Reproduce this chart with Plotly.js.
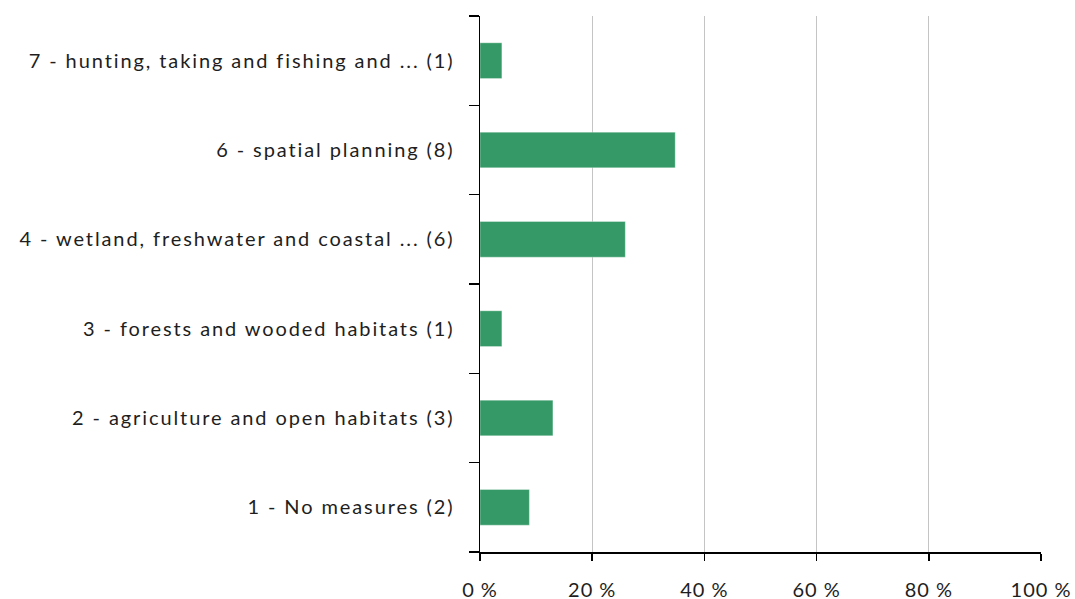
<!DOCTYPE html>
<html>
<head>
<meta charset="utf-8">
<script src="https://cdn.plot.ly/plotly-3.0.1.min.js"></script>
<style>
html,body{margin:0;padding:0;background:#fff;}
#chart{width:1075px;height:599px;}
#chart .ytick text{letter-spacing:1.9px;}
#chart .xtick text{letter-spacing:1px;}
</style>
</head>
<body>
<div id="chart"></div>
<script>
const categories = [
  "1 - No measures (2)",
  "2 - agriculture and open habitats (3)",
  "3 - forests and wooded habitats (1)",
  "4 - wetland, freshwater and coastal ... (6)",
  "6 - spatial planning (8)",
  "7 - hunting, taking and fishing and ... (1)"
];
const percentValues = [8.8, 13.0, 3.9, 25.9, 34.8, 3.9];
const xTickValues = [0, 20, 40, 60, 80, 100];
const xTickLabels = ["0 %", "20 %", "40 %", "60 %", "80 %", "100 %"];

const fontFamily = "Lato, 'Open Sans', sans-serif";

Plotly.newPlot("chart", [{
  type: "bar",
  orientation: "h",
  y: categories,
  x: percentValues,
  marker: {color: "#349966", line: {color: "rgba(255,255,255,0.35)", width: 1}},
  hoverinfo: "x+y"
}], {
  width: 1075, height: 599,
  margin: {l: 480, r: 34, t: 16, b: 47, pad: 0},
  paper_bgcolor: "#fff", plot_bgcolor: "#fff",
  bargap: 0.6,
  showlegend: false,
  font: {family: fontFamily, size: 20, color: "#1e1e1e"},
  xaxis: {
    range: [0, 100], tickmode: "array", tickvals: xTickValues, ticktext: xTickLabels,
    showgrid: true, gridcolor: "#c4c4c4", gridwidth: 1,
    zeroline: false, showline: true, linecolor: "#000", linewidth: 1.5,
    ticks: "outside", ticklen: 7, tickcolor: "#000", tickwidth: 1.5,
    ticklabelstandoff: 12,
    tickfont: {family: fontFamily, size: 20, color: "#1e1e1e"},
    fixedrange: true
  },
  yaxis: {
    type: "category", categoryorder: "array", categoryarray: categories,
    range: [-0.5, 5.5],
    showline: true, linecolor: "#000", linewidth: 1.5,
    ticks: "outside", tickson: "boundaries", ticklen: 10, tickcolor: "#000", tickwidth: 1.5,
    ticklabelstandoff: 20,
    showgrid: false, zeroline: false,
    tickfont: {family: fontFamily, size: 20, color: "#1e1e1e"},
    fixedrange: true
  }
}, {staticPlot: true});
</script>
</body>
</html>
